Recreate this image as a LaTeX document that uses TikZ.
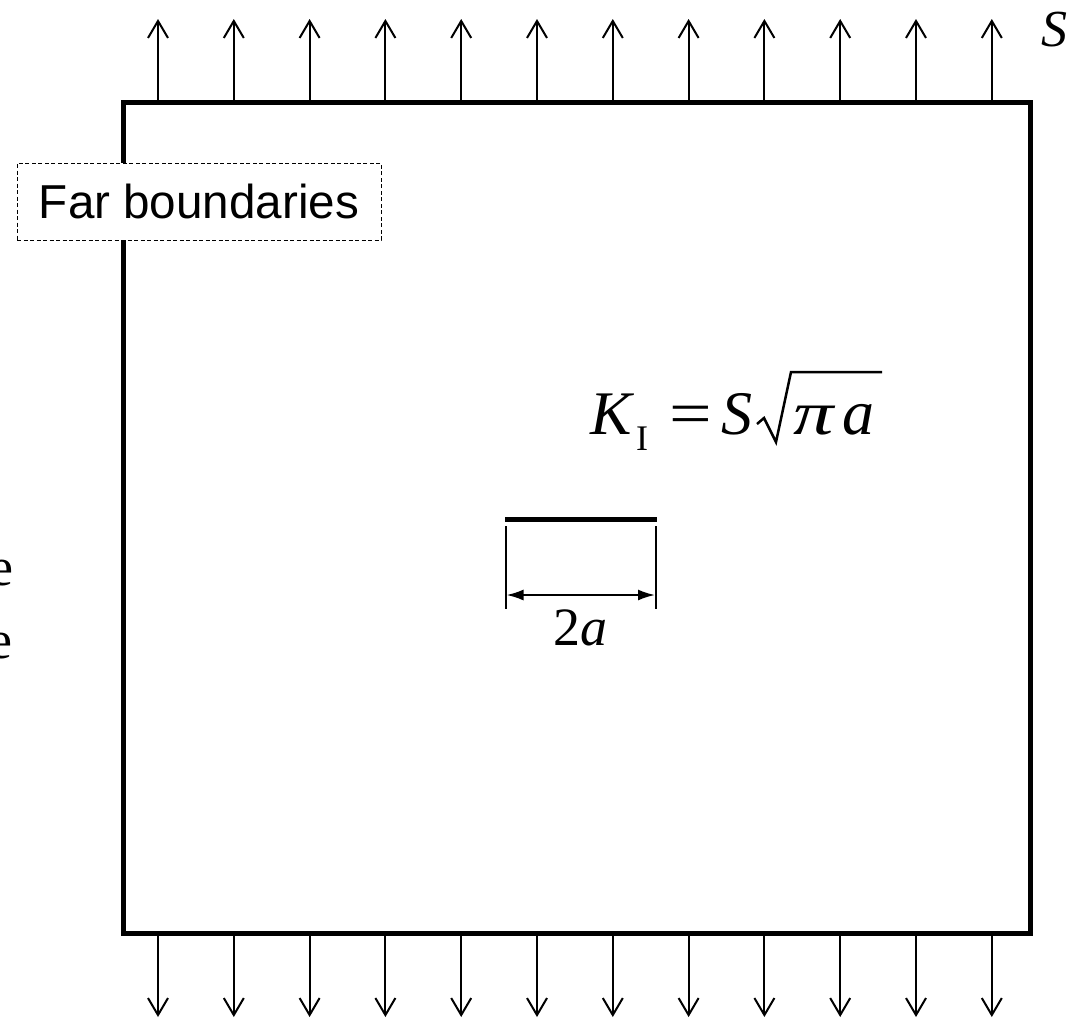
\documentclass[tikz,border=0pt]{standalone}
\usepackage{fontspec}
\setmainfont{Liberation Serif}
\newfontfamily\sansf{Liberation Sans}
\usetikzlibrary{arrows.meta}
\tikzset{
  plate/.style={line width=5pt, line join=miter},
  load/.style={line width=2pt, -{Straight Barb[length=17pt,width=20pt,line width=2pt]}},
  crack/.style={line width=5pt},
  extline/.style={line width=2pt},
  dimarrow/.style={line width=2pt, {Latex[length=17pt,width=11pt]}-{Latex[length=17pt,width=11pt]}},
  farbox/.style={draw, dashed, dash pattern=on 4pt off 2.5pt, line width=1pt, fill=white, minimum width=364pt, minimum height=77pt, inner sep=0pt, font=\sansf\fontsize{47.6}{52}\selectfont},
  radical/.style={line width=2.5pt, line join=miter},
  eqtext/.style={anchor=base west, inner sep=0pt, font=\fontsize{62}{70}\selectfont},
}
\begin{document}
\begin{tikzpicture}[x=1pt,y=-1pt]
\useasboundingbox (0,0) rectangle (1073,1017);
\clip (0,0) rectangle (1073,1017);
% plate
\coordinate (tl) at (123,102.5);
\coordinate (br) at (1030,933.5);
\draw[plate] (tl) rectangle (br);
% loads
\foreach \i in {0,...,11}{
  \coordinate (t\i) at ({158+\i*75.8},102.5);
  \coordinate (tt\i) at ({158+\i*75.8},19);
  \coordinate (b\i) at ({158+\i*75.8},933.5);
  \coordinate (bb\i) at ({158+\i*75.8},1017);
  \draw[load] (t\i) -- (tt\i);
  \draw[load] (b\i) -- (bb\i);
}
\node[anchor=base west, inner sep=0pt, font=\fontsize{52}{56}\selectfont\itshape] (S) at (1041,46) {S};
% far boundaries label
\node[farbox] (far) at (199,201.5) {Far boundaries};
% left clipped text
\node[anchor=base east, inner sep=0pt, font=\fontsize{54}{60}\selectfont] (e1) at (13.5,585) {e};
\node[anchor=base east, inner sep=0pt, font=\fontsize{54}{60}\selectfont] (e2) at (12.5,658) {e};
% formula K_I = S sqrt(pi a)
\node[eqtext, font=\fontsize{62}{70}\selectfont\itshape] (kK) at (590,434) {K};
\node[anchor=base west, inner sep=0pt, font=\fontsize{36}{40}\selectfont] (kI) at (636,450) {I};
\node[anchor=base west, inner sep=0pt, font=\fontsize{62}{70}\selectfont] (keq) at (669,434) {\scalebox{1.22}[1]{=}};
\node[eqtext, font=\fontsize{62}{70}\selectfont\itshape] (kS) at (721,434) {S};
\coordinate (r0) at (757,424);
\coordinate (r1) at (764,418);
\coordinate (r2) at (776,442);
\coordinate (r3) at (791,372);
\coordinate (r4) at (882,372);
\draw[radical] (r0) -- (r1) -- (r2) -- (r3) -- (r4);
\node[eqtext, font=\fontsize{62}{70}\selectfont\itshape] (kpi) at (793,434) {\scalebox{1.3}[1]{π}};
\node[eqtext, font=\fontsize{64}{70}\selectfont\itshape] (ka) at (842,434) {a};
% crack
\coordinate (c1) at (505,519.5);
\coordinate (c2) at (657,519.5);
\draw[crack] (c1) -- (c2);
% dimension
\coordinate (d1t) at (505.5,526);
\coordinate (d1b) at (505.5,609);
\coordinate (d2t) at (656,526);
\coordinate (d2b) at (656,609);
\draw[extline] (d1t) -- (d1b);
\draw[extline] (d2t) -- (d2b);
\coordinate (a1) at (506.5,595);
\coordinate (a2) at (655,595);
\draw[dimarrow] (a1) -- (a2);
\node[anchor=base, inner sep=0pt, font=\fontsize{54}{60}\selectfont] (twoa) at (580,645) {2\textit{a}};
\end{tikzpicture}
\end{document}
